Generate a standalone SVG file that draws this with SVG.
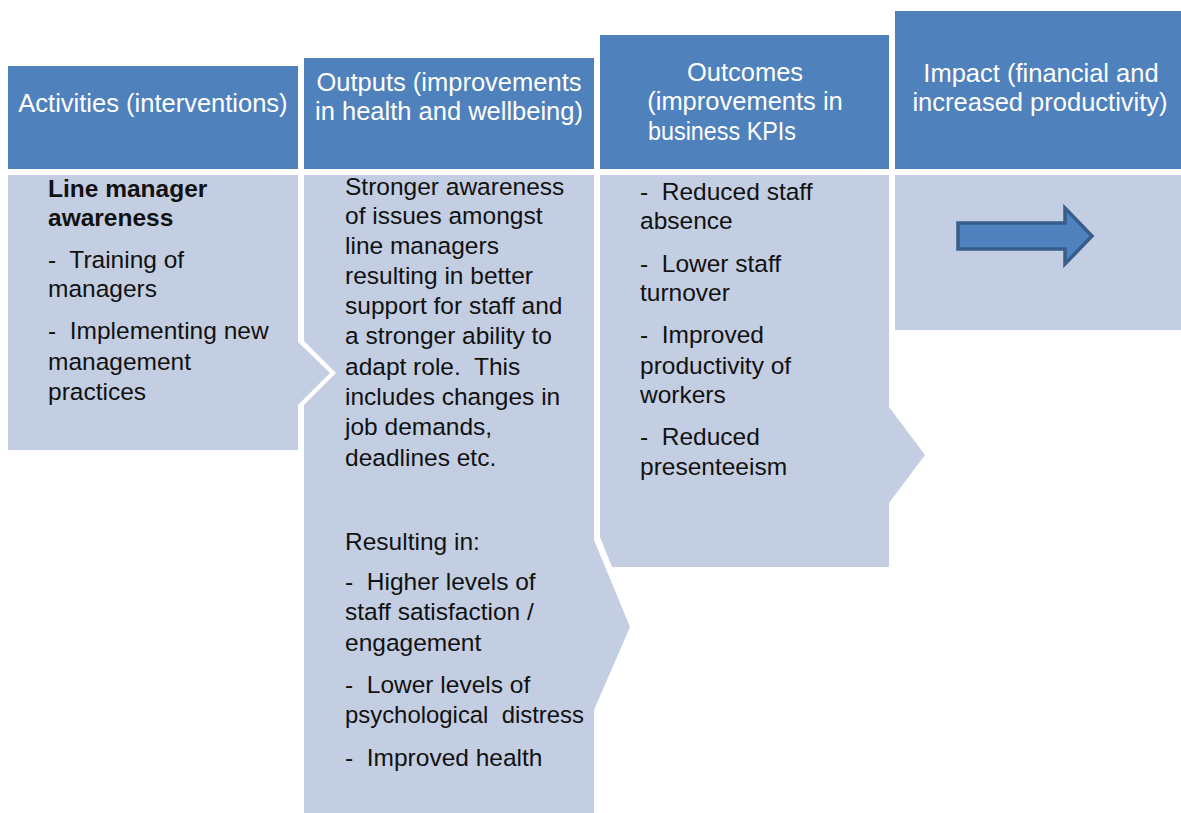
<svg xmlns="http://www.w3.org/2000/svg" width="1181" height="813" viewBox="0 0 1181 813">
<style>
.hdr{fill:#4F81BD}
.body{fill:#C3CEE2}
.ht{font-family:"Liberation Sans",Arial,sans-serif;font-size:25.5px;fill:#FFFFFF}
.bt{font-family:"Liberation Sans",Arial,sans-serif;font-size:24.5px;fill:#111111}
.b{font-weight:bold}
</style>
<rect width="1181" height="813" fill="#FFFFFF"/>
<g id="activities">
<rect class="hdr" x="8" y="66" width="290" height="103"/>
<text class="ht" x="153" y="112" text-anchor="middle">Activities (interventions)</text>
<polygon class="body" points="8,175 298,175 298,342 330,373 298,405 298,450 8,450"/>
<text class="bt b" x="48" y="197">Line manager</text>
<text class="bt b" x="48" y="226">awareness</text>
<text class="bt" x="48" y="268" xml:space="preserve">-  Training of</text>
<text class="bt" x="48" y="297">managers</text>
<text class="bt" x="48" y="339" xml:space="preserve">-  Implementing new</text>
<text class="bt" x="48" y="370">management</text>
<text class="bt" x="48" y="400">practices</text>
</g>
<g id="outputs">
<rect class="hdr" x="304" y="58" width="290" height="111"/>
<text class="ht" x="449" y="91" text-anchor="middle">Outputs (improvements</text>
<text class="ht" x="449" y="120" text-anchor="middle">in health and wellbeing)</text>
<polygon class="body" points="304,175 594,175 594,540 630,627 594,710 594,813 304,813 304,405 336,373 304,341"/>
<text class="bt" x="345" y="195">Stronger awareness</text>
<text class="bt" x="345" y="224">of issues amongst</text>
<text class="bt" x="345" y="254">line managers</text>
<text class="bt" x="345" y="284">resulting in better</text>
<text class="bt" x="345" y="314">support for staff and</text>
<text class="bt" x="345" y="344">a stronger ability to</text>
<text class="bt" x="345" y="375" xml:space="preserve">adapt role.  This</text>
<text class="bt" x="345" y="405">includes changes in</text>
<text class="bt" x="345" y="435">job demands,</text>
<text class="bt" x="345" y="466">deadlines etc.</text>
<text class="bt" x="345" y="550">Resulting in:</text>
<text class="bt" x="345" y="590" xml:space="preserve">-  Higher levels of</text>
<text class="bt" x="345" y="620">staff satisfaction /</text>
<text class="bt" x="345" y="651">engagement</text>
<text class="bt" x="345" y="693" xml:space="preserve">-  Lower levels of</text>
<text class="bt" x="345" y="723" xml:space="preserve" textLength="239" lengthAdjust="spacingAndGlyphs">psychological  distress</text>
<text class="bt" x="345" y="766" xml:space="preserve">-  Improved health</text>
</g>
<g id="outcomes">
<rect class="hdr" x="600" y="35" width="289" height="134"/>
<text class="ht" x="745" y="81" text-anchor="middle">Outcomes</text>
<text class="ht" x="745" y="110" text-anchor="middle">(improvements in</text>
<text class="ht" x="648" y="140" textLength="148" lengthAdjust="spacingAndGlyphs">business KPIs</text>
<polygon class="body" points="600,175 889,175 889,407 925,455 889,503 889,567 612,567 600,537"/>
<text class="bt" x="640" y="200" xml:space="preserve">-  Reduced staff</text>
<text class="bt" x="640" y="229">absence</text>
<text class="bt" x="640" y="272" xml:space="preserve">-  Lower staff</text>
<text class="bt" x="640" y="301">turnover</text>
<text class="bt" x="640" y="343" xml:space="preserve">-  Improved</text>
<text class="bt" x="640" y="374">productivity of</text>
<text class="bt" x="640" y="403">workers</text>
<text class="bt" x="640" y="445" xml:space="preserve">-  Reduced</text>
<text class="bt" x="640" y="475">presenteeism</text>
</g>
<g id="impact">
<rect class="hdr" x="895" y="11" width="286" height="158"/>
<text class="ht" x="1041" y="82" text-anchor="middle">Impact (financial and</text>
<text class="ht" x="1040" y="111" text-anchor="middle">increased productivity)</text>
<rect class="body" x="895" y="175" width="286" height="155"/>
</g>
<g id="connectors">
<polygon points="958,223 1065,223 1065,208 1092,236 1065,264 1065,249 958,249" fill="#4F81BD" stroke="#385D8A" stroke-width="3.5" stroke-linejoin="miter"/>
</g>
</svg>
